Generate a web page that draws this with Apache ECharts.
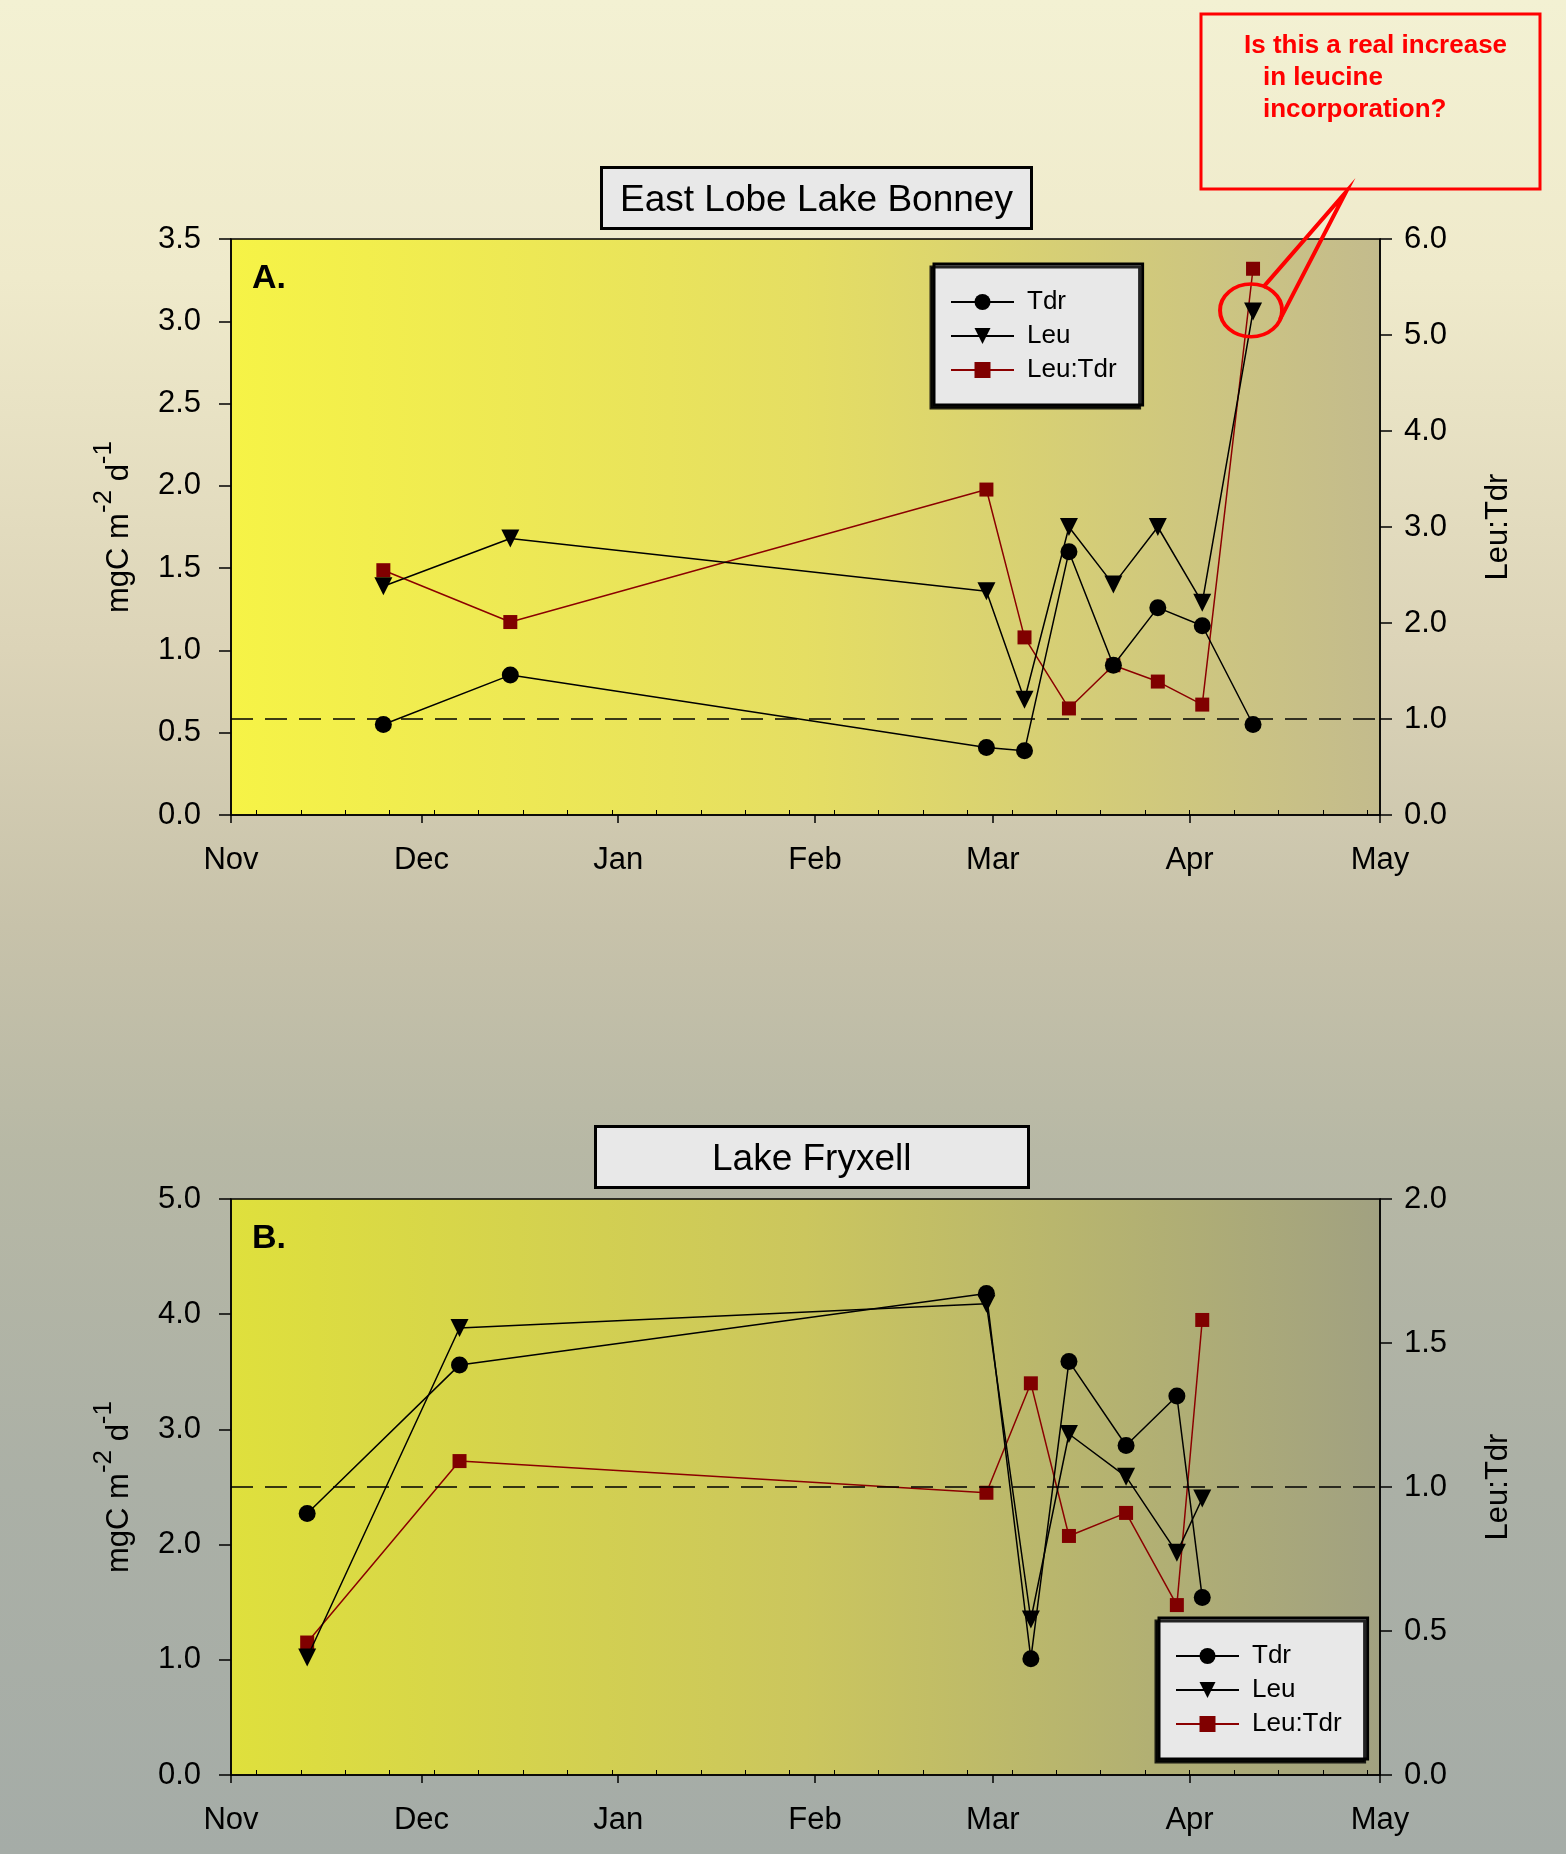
<!DOCTYPE html>
<html>
<head>
<meta charset="utf-8">
<title>Tdr and Leu incorporation - Lake Bonney and Lake Fryxell</title>
<script src="https://cdn.jsdelivr.net/npm/echarts@6/dist/echarts.min.js"></script>
<style>
  html, body { margin: 0; padding: 0; }
  #main { width: 1566px; height: 1854px; }
</style>
</head>
<body>
<div id="main"></div>
<script>
// month ticks along the season
const monthTicks = ['2002-11-01', '2002-12-01', '2003-01-01', '2003-02-01', '2003-03-01', '2003-04-01', '2003-05-01']
const monthLabels = ['Nov', 'Dec', 'Jan', 'Feb', 'Mar', 'Apr', 'May']
const firstWeekTick = '2002-11-05'

// A. East Lobe Lake Bonney
const bonneyDates = ['2002-11-25', '2002-12-15', '2003-02-28', '2003-03-06', '2003-03-13', '2003-03-20', '2003-03-27', '2003-04-03', '2003-04-11']
const bonneyTdr = [0.55, 0.85, 0.41, 0.39, 1.60, 0.91, 1.26, 1.15, 0.55]
const bonneyLeu = [1.39, 1.68, 1.36, 0.70, 1.75, 1.40, 1.75, 1.29, 3.06]
const bonneyRatio = [2.55, 2.01, 3.39, 1.85, 1.11, 1.56, 1.39, 1.15, 5.69]

// B. Lake Fryxell
const fryxellDates = ['2002-11-13', '2002-12-07', '2003-02-28', '2003-03-07', '2003-03-13', '2003-03-22', '2003-03-30', '2003-04-03']
const fryxellTdr = [2.27, 3.56, 4.18, 1.01, 3.59, 2.86, 3.29, 1.54]
const fryxellLeu = [1.02, 3.88, 4.09, 1.35, 2.96, 2.59, 1.93, 2.40]
const fryxellRatio = [0.46, 1.09, 0.98, 1.36, 0.83, 0.91, 0.59, 1.58]

const FONT = "'Liberation Sans', Arial, sans-serif"

function ts(s){
    return new Date(s + 'T00:00:00').getTime()
}

const monthTs = monthTicks.map(ts)
const weekTs = []
for (let t = ts(firstWeekTick); t < monthTs[monthTs.length - 1]; t += 7 * 86400000){
    weekTs.push(t)
}

const GRID_H = 576
const black = { color: '#000', width: 1.5 }

// x is a plain value axis holding timestamps, so the month ticks can be placed exactly
function xAxes(gridIndex){
    return [{
        type: 'value',
        gridIndex: gridIndex,
        min: monthTs[0],
        max: monthTs[monthTs.length - 1],
        axisLine: { show: true, onZero: false, lineStyle: black },
        axisTick: { show: true, customValues: monthTs, length: 8, lineStyle: black },
        axisLabel: {
            customValues: monthTs,
            formatter: v => monthLabels[monthTs.indexOf(v)],
            fontSize: 31, color: '#000', margin: 30, fontFamily: FONT
        },
        splitLine: { show: false }
    }, {
        // weekly minor ticks, pointing into the plot from the bottom line
        type: 'value',
        gridIndex: gridIndex,
        position: 'top',
        offset: -GRID_H,
        min: monthTs[0],
        max: monthTs[monthTs.length - 1],
        axisLine: { show: false, onZero: false },
        axisTick: { show: true, customValues: weekTs, length: 5, lineStyle: { color: '#000', width: 1 } },
        axisLabel: { show: false },
        splitLine: { show: false }
    }]
}

function yAxis(gridIndex, position, max, interval, name, nameGap){
    return {
        type: 'value',
        gridIndex: gridIndex,
        position: position,
        min: 0,
        max: max,
        interval: interval,
        name: name,
        nameLocation: 'middle',
        nameRotate: 90,
        nameGap: nameGap,
        nameTextStyle: {
            fontSize: 31, color: '#000', fontFamily: FONT,
            lineHeight: position === 'left' ? 56 : 40,
            rich: { sup: { fontSize: 26, verticalAlign: 'top', lineHeight: 26, fontFamily: FONT, color: '#000' } }
        },
        axisLine: { show: true, onZero: false, lineStyle: black },
        axisTick: { show: true, length: 12, lineStyle: black },
        axisLabel: {
            formatter: v => v.toFixed(1),
            fontSize: 31, color: '#000', margin: position === 'left' ? 30 : 24, fontFamily: FONT
        },
        splitLine: { show: false }
    }
}

function makeSeries(xIndex, yLeft, yRight, dates, tdr, leu, ratio){
    const pts = vals => dates.map((d, i) => [ts(d), vals[i]])
    return [{
        name: 'Tdr', type: 'line', xAxisIndex: xIndex, yAxisIndex: yLeft,
        data: pts(tdr), symbol: 'circle', symbolSize: 17,
        lineStyle: { color: '#000', width: 1.5 }, itemStyle: { color: '#000' },
        animation: false, z: 4
    }, {
        name: 'Leu', type: 'line', xAxisIndex: xIndex, yAxisIndex: yLeft,
        data: pts(leu), symbol: 'triangle', symbolRotate: 180, symbolSize: 18,
        lineStyle: { color: '#000', width: 1.5 }, itemStyle: { color: '#000' },
        animation: false, z: 4
    }, {
        name: 'Leu:Tdr', type: 'line', xAxisIndex: xIndex, yAxisIndex: yRight,
        data: pts(ratio), symbol: 'rect', symbolSize: 14,
        lineStyle: { color: '#8b0000', width: 1.5 }, itemStyle: { color: '#800000' },
        animation: false, z: 3,
        markLine: {
            silent: true, symbol: ['none', 'none'], label: { show: false },
            lineStyle: { color: '#000', width: 1.5, type: [22, 12] },
            data: [{ yAxis: 1 }]
        }
    }]
}

function legend(left, top){
    return {
        data: ['Tdr', 'Leu', 'Leu:Tdr'],
        orient: 'vertical',
        left: left, top: top,
        itemWidth: 63, itemHeight: 20, itemGap: 8,
        padding: [25, 26, 22, 16],
        backgroundColor: '#e8e8e8',
        borderColor: '#000', borderWidth: 3,
        shadowColor: 'rgba(0,0,0,0.85)', shadowOffsetX: -3, shadowOffsetY: 3,
        textStyle: { fontSize: 26, lineHeight: 26, color: '#000', fontFamily: FONT, padding: [0, 0, 0, 8] },
        selectedMode: false
    }
}

function title(text, left, top, padH){
    return {
        text: text, left: left, top: top,
        padding: [14, padH, 8, padH],
        backgroundColor: '#e8e8e8',
        borderColor: '#000', borderWidth: 3,
        textStyle: { fontSize: 37, lineHeight: 40, fontWeight: 'normal', color: '#000', fontFamily: FONT }
    }
}

const LG = echarts.graphic.LinearGradient
const yName = 'mgC m{sup|-2} d{sup|-1}'

const option = {
    animation: false,
    backgroundColor: new LG(0, 0, 0, 1, [
        { offset: 0, color: '#f3f1d3' },
        { offset: 0.15, color: '#efeacb' },
        { offset: 0.35, color: '#dcd4b8' },
        { offset: 0.5, color: '#c7c2aa' },
        { offset: 0.62, color: '#b7b8a5' },
        { offset: 0.8, color: '#abb0a6' },
        { offset: 1, color: '#a5aca7' }
    ]),
    textStyle: { fontFamily: FONT },
    title: [
        title('East Lobe Lake Bonney', 601, 167, 19),
        title('Lake Fryxell', 595, 1126, 117)
    ],
    legend: [legend(934, 264), legend(1159, 1618)],
    grid: [{
        left: 231, top: 239, width: 1149, height: GRID_H,
        show: true, borderColor: '#000', borderWidth: 1.5,
        backgroundColor: new LG(0, 0, 1, 0, [
            { offset: 0, color: '#f6f346' },
            { offset: 0.5, color: '#e5de63' },
            { offset: 1, color: '#c3bb8d' }
        ])
    }, {
        left: 231, top: 1199, width: 1149, height: GRID_H,
        show: true, borderColor: '#000', borderWidth: 1.5,
        backgroundColor: new LG(0, 0, 1, 0, [
            { offset: 0, color: '#dfe03c' },
            { offset: 0.5, color: '#cbc65e' },
            { offset: 1, color: '#a1a181' }
        ])
    }],
    xAxis: xAxes(0).concat(xAxes(1)),
    yAxis: [
        yAxis(0, 'left', 3.5, 0.5, yName, 84),
        yAxis(0, 'right', 6, 1, 'Leu:Tdr', 98),
        yAxis(1, 'left', 5, 1, yName, 84),
        yAxis(1, 'right', 2, 0.5, 'Leu:Tdr', 98)
    ],
    series: makeSeries(0, 0, 1, bonneyDates, bonneyTdr, bonneyLeu, bonneyRatio)
        .concat(makeSeries(2, 2, 3, fryxellDates, fryxellTdr, fryxellLeu, fryxellRatio))
}

const myChart = echarts.init(document.getElementById('main'))
myChart.setOption(option)

// callout around the last Leu point of the Bonney panel
const last = bonneyDates.length - 1
const p = myChart.convertToPixel({ xAxisIndex: 0, yAxisIndex: 0 }, [ts(bonneyDates[last]), bonneyLeu[last]])
const cx = p[0] - 2, cy = p[1] - 1
const red = '#ff0000'

myChart.setOption({
    graphic: [
        { type: 'text', left: 252, top: 262, z: 10,
          style: { text: 'A.', font: 'bold 34px ' + FONT, fill: '#000' } },
        { type: 'text', left: 252, top: 1222, z: 10,
          style: { text: 'B.', font: 'bold 34px ' + FONT, fill: '#000' } },
        { type: 'rect', z: 10, shape: { x: 1201, y: 14, width: 339, height: 175 },
          style: { fill: 'none', stroke: red, lineWidth: 3 } },
        { type: 'text', x: 1244, y: 46, z: 10,
          style: { text: 'Is this a real increase', font: 'bold 26px ' + FONT, fill: red, verticalAlign: 'middle' } },
        { type: 'text', x: 1263, y: 78, z: 10,
          style: { text: 'in leucine', font: 'bold 26px ' + FONT, fill: red, verticalAlign: 'middle' } },
        { type: 'text', x: 1263, y: 110, z: 10,
          style: { text: 'incorporation?', font: 'bold 26px ' + FONT, fill: red, verticalAlign: 'middle' } },
        { type: 'circle', z: 10, x: cx, y: cy, scaleX: 1, scaleY: 0.85, shape: { cx: 0, cy: 0, r: 31 },
          style: { fill: 'none', stroke: red, lineWidth: 4 } },
        { type: 'polyline', z: 10,
          shape: { points: [[cx + 12, cy - 23], [1346, 192], [cx + 29, cy + 9]] },
          style: { fill: 'none', stroke: red, lineWidth: 4 } }
    ]
})
</script>
</body>
</html>
